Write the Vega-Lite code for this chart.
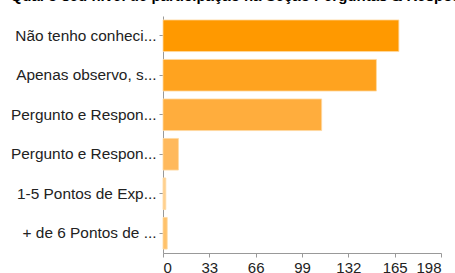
{
  "$schema": "https://vega.github.io/schema/vega-lite/v6.json",
  "autosize": "none",
  "width": 278,
  "height": 237,
  "padding": {"left": 163, "top": 16, "right": 14, "bottom": 20},
  "background": "white",
  "title": {
    "text": "Qual o seu nível de participação na Seção Perguntas & Respostas?",
    "anchor": "start",
    "frame": "bounds",
    "font": "Liberation Sans",
    "fontSize": 15,
    "fontWeight": "bold",
    "color": "#000000",
    "offset": 12
  },
  "data": {
    "values": [
      {"label": "Não tenho conheci...", "count": 168, "color": "#ff9900"},
      {"label": "Apenas observo, s...", "count": 152, "color": "#ffa31f"},
      {"label": "Pergunto e Respon... ", "count": 113, "color": "#ffad3d"},
      {"label": "Pergunto e Respon...", "count": 11, "color": "#ffb95c"},
      {"label": "1-5 Pontos de Exp...", "count": 2, "color": "#ffd08f"},
      {"label": "+ de 6 Pontos de ...", "count": 3, "color": "#ffc26b"}
    ]
  },
  "mark": {"type": "bar", "strokeWidth": 1, "stroke": "#ffd9a0", "strokeOpacity": 0.8},
  "encoding": {
    "y": {
      "field": "label",
      "type": "nominal",
      "sort": null,
      "scale": {"paddingInner": 0.2, "paddingOuter": 0.1},
      "axis": {
        "title": null,
        "labelFont": "Liberation Sans",
        "labelFontSize": 15.4,
        "labelColor": "#222222",
        "labelPadding": 3,
        "labelLimit": 200,
        "tickSize": 4,
        "tickColor": "#999999",
        "domainColor": "#999999"
      }
    },
    "x": {
      "field": "count",
      "type": "quantitative",
      "scale": {"domain": [0, 198], "nice": false},
      "axis": {
        "title": null,
        "values": [0, 33, 66, 99, 132, 165, 198],
        "grid": false,
        "labelFont": "Liberation Sans",
        "labelFontSize": 15,
        "labelColor": "#222222",
        "labelPadding": 3,
        "tickSize": 4,
        "tickColor": "#999999",
        "domainColor": "#999999"
      }
    },
    "color": {"field": "color", "type": "nominal", "scale": null}
  },
  "config": {"view": {"stroke": null}}
}
